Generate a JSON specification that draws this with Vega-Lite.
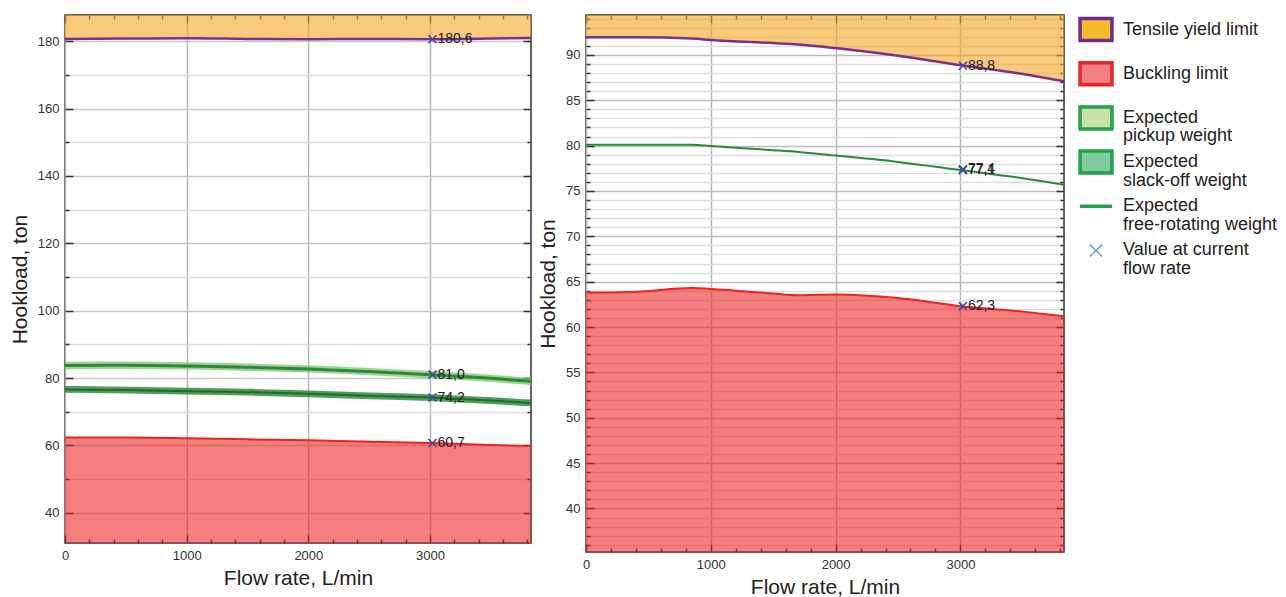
{
  "$schema": "https://vega.github.io/schema/vega-lite/v6.json",
  "padding": {"left": 8, "top": 11, "right": 0, "bottom": 0},
  "background": "white",
  "config": {
    "font": "Liberation Sans",
    "view": {"stroke": "#333", "strokeWidth": 1.5},
    "axis": {
      "labelFont": "Liberation Sans", "labelFontSize": 13, "labelColor": "#333",
      "titleFont": "Liberation Sans", "titleFontSize": 21, "titleFontWeight": "normal", "titleColor": "#222",
      "tickColor": "#333", "tickWidth": 1.5, "domain": false, "labelOverlap": false, "labelFlush": false
    }
  },
  "datasets": {
    "left": [
      {"flow": 0, "tensile": 180.7, "pick_lo": 82.6, "pick_mid": 83.7, "pick_hi": 84.8, "slack_lo": 75.6, "slack_mid": 76.6, "slack_hi": 77.6, "buckle": 62.3},
      {"flow": 500, "tensile": 180.8, "pick_lo": 82.7, "pick_mid": 83.8, "pick_hi": 84.9, "slack_lo": 75.4, "slack_mid": 76.4, "slack_hi": 77.4, "buckle": 62.3},
      {"flow": 1000, "tensile": 180.9, "pick_lo": 82.5, "pick_mid": 83.6, "pick_hi": 84.7, "slack_lo": 75.1, "slack_mid": 76.1, "slack_hi": 77.1, "buckle": 62.1},
      {"flow": 1500, "tensile": 180.7, "pick_lo": 82.1, "pick_mid": 83.2, "pick_hi": 84.3, "slack_lo": 74.8, "slack_mid": 75.8, "slack_hi": 76.8, "buckle": 61.8},
      {"flow": 2000, "tensile": 180.6, "pick_lo": 81.6, "pick_mid": 82.7, "pick_hi": 83.8, "slack_lo": 74.3, "slack_mid": 75.3, "slack_hi": 76.3, "buckle": 61.5},
      {"flow": 2500, "tensile": 180.7, "pick_lo": 80.8, "pick_mid": 81.9, "pick_hi": 83.0, "slack_lo": 73.7, "slack_mid": 74.7, "slack_hi": 75.7, "buckle": 61.1},
      {"flow": 3000, "tensile": 180.6, "pick_lo": 79.9, "pick_mid": 81.0, "pick_hi": 82.1, "slack_lo": 73.2, "slack_mid": 74.2, "slack_hi": 75.2, "buckle": 60.7},
      {"flow": 3500, "tensile": 180.8, "pick_lo": 78.8, "pick_mid": 79.9, "pick_hi": 81.0, "slack_lo": 72.3, "slack_mid": 73.3, "slack_hi": 74.3, "buckle": 60.1},
      {"flow": 3830, "tensile": 181.0, "pick_lo": 77.9, "pick_mid": 79.0, "pick_hi": 80.1, "slack_lo": 71.6, "slack_mid": 72.6, "slack_hi": 73.6, "buckle": 59.8}
    ],
    "right": [
      {"flow": 0, "tensile": 91.95, "free": 80.1, "buckle": 63.8},
      {"flow": 400, "tensile": 91.95, "free": 80.1, "buckle": 63.9},
      {"flow": 850, "tensile": 91.8, "free": 80.1, "buckle": 64.3},
      {"flow": 1000, "tensile": 91.65, "free": 79.95, "buckle": 64.2},
      {"flow": 1500, "tensile": 91.3, "free": 79.5, "buckle": 63.7},
      {"flow": 1700, "tensile": 91.15, "free": 79.3, "buckle": 63.5},
      {"flow": 2000, "tensile": 90.75, "free": 78.9, "buckle": 63.6},
      {"flow": 2500, "tensile": 89.9, "free": 78.2, "buckle": 63.2},
      {"flow": 3000, "tensile": 88.85, "free": 77.3, "buckle": 62.3},
      {"flow": 3500, "tensile": 87.9, "free": 76.4, "buckle": 61.7},
      {"flow": 3830, "tensile": 87.1, "free": 75.7, "buckle": 61.2}
    ],
    "leftMarks": [
      {"flow": 3020, "value": 180.6, "label": "180,6"},
      {"flow": 3020, "value": 81.0, "label": "81,0"},
      {"flow": 3020, "value": 74.2, "label": "74,2"},
      {"flow": 3020, "value": 60.7, "label": "60,7"}
    ],
    "rightMarks": [
      {"flow": 3020, "value": 88.8, "label": "88,8"},
      {"flow": 3020, "value": 77.4, "label": "77,4"},
      {"flow": 3020, "value": 77.3, "label": "77,1"},
      {"flow": 3020, "value": 62.3, "label": "62,3"}
    ],
    "legend": [
      {"item": "Tensile yield limit", "label": "Tensile yield limit"},
      {"item": "Buckling limit", "label": "Buckling limit"},
      {"item": "Expected pickup weight", "label": "Expected\npickup weight"},
      {"item": "Expected slack-off weight", "label": "Expected\nslack-off weight"},
      {"item": "Expected free-rotating weight", "label": "Expected\nfree-rotating weight"},
      {"item": "Value at current flow rate", "label": "Value at current\nflow rate"}
    ]
  },
  "hconcat": [
    {
      "width": 466,
      "height": 528,
      "data": {"name": "left"},
      "resolve": {"axis": {"x": "independent", "y": "independent"}},
      "layer": [
        {
          "mark": {"type": "area", "color": "#F5A623", "opacity": 0.6, "clip": true},
          "encoding": {
            "x": {"field": "flow", "type": "quantitative", "scale": {"domain": [0, 3830], "nice": false, "zero": false}, "title": "Flow rate, L/min",
              "axis": {"orient": "bottom", "values": [0,200,400,600,800,1000,1200,1400,1600,1800,2000,2200,2400,2600,2800,3000,3200,3400,3600,3800], "format": "d",
                "labelExpr": "datum.value % 1000 === 0 ? datum.label : ''", "labelPadding": 14, "titlePadding": 1,
                "grid": true, "gridColor": {"condition": {"test": "datum.value % 1000 === 0", "value": "#b8b8b8"}, "value": "transparent"}, "gridWidth": 1.5,
                "tickSize": {"condition": {"test": "datum.value % 1000 === 0", "value": -8}, "value": -4}}},
            "y": {"field": "tensile", "type": "quantitative", "scale": {"domain": [31, 187.8], "nice": false, "zero": false}, "title": "Hookload, ton",
              "axis": {"orient": "left", "values": [40,50,60,70,80,90,100,110,120,130,140,150,160,170,180],
                "labelExpr": "datum.value % 20 === 0 ? datum.label : ''", "labelPadding": 14, "titlePadding": 7,
                "grid": true, "gridColor": {"condition": {"test": "datum.value % 20 === 0", "value": "#c8c8c8"}, "value": "#dcdcdc"}, "gridWidth": 1.5,
                "tickSize": {"condition": {"test": "datum.value % 20 === 0", "value": -8}, "value": -4}}},
            "y2": {"datum": 187.8}
          }
        },
        {
          "mark": {"type": "area", "color": "#EE2222", "opacity": 0.58, "clip": true},
          "encoding": {
            "x": {"field": "flow", "type": "quantitative", "scale": {"domain": [0, 3830], "nice": false, "zero": false}, "axis": null},
            "y": {"field": "buckle", "type": "quantitative", "scale": {"domain": [31, 187.8], "nice": false, "zero": false}, "axis": null},
            "y2": {"datum": 31}
          }
        },
        {
          "mark": {"type": "line", "color": "#EE2222", "strokeWidth": 2, "interpolate": "monotone", "clip": true},
          "encoding": {
            "x": {"field": "flow", "type": "quantitative", "scale": {"domain": [0, 3830], "nice": false, "zero": false}, "axis": null},
            "y": {"field": "buckle", "type": "quantitative", "scale": {"domain": [31, 187.8], "nice": false, "zero": false}, "axis": null}
          }
        },
        {
          "mark": {"type": "area", "color": "#7FC46F", "opacity": 0.75, "interpolate": "monotone", "clip": true},
          "encoding": {
            "x": {"field": "flow", "type": "quantitative", "scale": {"domain": [0, 3830], "nice": false, "zero": false}, "axis": null},
            "y": {"field": "pick_lo", "type": "quantitative", "scale": {"domain": [31, 187.8], "nice": false, "zero": false}, "axis": null},
            "y2": {"field": "pick_hi"}
          }
        },
        {
          "mark": {"type": "line", "color": "#2B8A3A", "strokeWidth": 3, "interpolate": "monotone", "clip": true},
          "encoding": {
            "x": {"field": "flow", "type": "quantitative", "scale": {"domain": [0, 3830], "nice": false, "zero": false}, "axis": null},
            "y": {"field": "pick_mid", "type": "quantitative", "scale": {"domain": [31, 187.8], "nice": false, "zero": false}, "axis": null}
          }
        },
        {
          "mark": {"type": "area", "color": "#2F8C40", "opacity": 0.85, "interpolate": "monotone", "clip": true},
          "encoding": {
            "x": {"field": "flow", "type": "quantitative", "scale": {"domain": [0, 3830], "nice": false, "zero": false}, "axis": null},
            "y": {"field": "slack_lo", "type": "quantitative", "scale": {"domain": [31, 187.8], "nice": false, "zero": false}, "axis": null},
            "y2": {"field": "slack_hi"}
          }
        },
        {
          "mark": {"type": "line", "color": "#1D6E2B", "strokeWidth": 2, "interpolate": "monotone", "clip": true},
          "encoding": {
            "x": {"field": "flow", "type": "quantitative", "scale": {"domain": [0, 3830], "nice": false, "zero": false}, "axis": null},
            "y": {"field": "slack_mid", "type": "quantitative", "scale": {"domain": [31, 187.8], "nice": false, "zero": false}, "axis": null}
          }
        },
        {
          "mark": {"type": "line", "color": "#7A2E8E", "strokeWidth": 2.5, "interpolate": "monotone", "clip": true},
          "encoding": {
            "x": {"field": "flow", "type": "quantitative", "scale": {"domain": [0, 3830], "nice": false, "zero": false},
              "axis": {"orient": "top", "values": [0,200,400,600,800,1000,1200,1400,1600,1800,2000,2200,2400,2600,2800,3000,3200,3400,3600,3800], "labels": false, "grid": false, "title": null,
                "tickSize": {"condition": {"test": "datum.value % 1000 === 0", "value": -8}, "value": -4}}},
            "y": {"field": "tensile", "type": "quantitative", "scale": {"domain": [31, 187.8], "nice": false, "zero": false},
              "axis": {"orient": "right", "values": [40,50,60,70,80,90,100,110,120,130,140,150,160,170,180], "labels": false, "grid": false, "title": null,
                "tickSize": {"condition": {"test": "datum.value % 20 === 0", "value": -8}, "value": -4}}}
          }
        },
        {
          "data": {"name": "leftMarks"},
          "mark": {"type": "point", "shape": "M-1,-1L1,1M-1,1L1,-1", "filled": false, "stroke": "#3B4BA8", "strokeWidth": 1.6, "size": 64, "opacity": 1},
          "encoding": {
            "x": {"field": "flow", "type": "quantitative", "scale": {"domain": [0, 3830], "nice": false, "zero": false}, "axis": null},
            "y": {"field": "value", "type": "quantitative", "scale": {"domain": [31, 187.8], "nice": false, "zero": false}, "axis": null}
          }
        },
        {
          "data": {"name": "leftMarks"},
          "mark": {"type": "text", "align": "left", "baseline": "middle", "dx": 5, "fontSize": 14, "color": "#222", "font": "Liberation Sans"},
          "encoding": {
            "x": {"field": "flow", "type": "quantitative", "scale": {"domain": [0, 3830], "nice": false, "zero": false}, "axis": null},
            "y": {"field": "value", "type": "quantitative", "scale": {"domain": [31, 187.8], "nice": false, "zero": false}, "axis": null},
            "text": {"field": "label"}
          }
        }
      ]
    },
    {
      "spacing": 7,
      "hconcat": [
        {
          "width": 478,
          "height": 537,
          "data": {"name": "right"},
          "resolve": {"axis": {"x": "independent", "y": "independent"}},
          "layer": [
            {
              "mark": {"type": "area", "color": "#F5A623", "opacity": 0.6, "interpolate": "monotone", "clip": true},
              "encoding": {
                "x": {"field": "flow", "type": "quantitative", "scale": {"domain": [0, 3830], "nice": false, "zero": false}, "title": "Flow rate, L/min",
                  "axis": {"orient": "bottom", "values": [0,200,400,600,800,1000,1200,1400,1600,1800,2000,2200,2400,2600,2800,3000,3200,3400,3600,3800], "format": "d",
                    "labelExpr": "datum.value % 1000 === 0 ? datum.label : ''", "labelPadding": 14, "titlePadding": 1,
                    "grid": true, "gridColor": {"condition": {"test": "datum.value % 1000 === 0", "value": "#b8b8b8"}, "value": "transparent"}, "gridWidth": 1.5,
                    "tickSize": {"condition": {"test": "datum.value % 1000 === 0", "value": -8}, "value": -4}}},
                "y": {"field": "tensile", "type": "quantitative", "scale": {"domain": [35.2, 94.4], "nice": false, "zero": false}, "title": "Hookload, ton",
                  "axis": {"orient": "left", "values": [36,37,38,39,40,41,42,43,44,45,46,47,48,49,50,51,52,53,54,55,56,57,58,59,60,61,62,63,64,65,66,67,68,69,70,71,72,73,74,75,76,77,78,79,80,81,82,83,84,85,86,87,88,89,90,91,92,93,94],
                    "labelExpr": "datum.value % 5 === 0 ? datum.label : ''", "labelPadding": 14, "titlePadding": 7,
                    "grid": true, "gridColor": {"condition": {"test": "datum.value % 5 === 0", "value": "#bdbdbd"}, "value": "#dedede"}, "gridWidth": 1.5,
                    "tickSize": {"condition": {"test": "datum.value % 5 === 0", "value": -8}, "value": -4}}},
                "y2": {"datum": 94.4}
              }
            },
            {
              "mark": {"type": "area", "color": "#EE2222", "opacity": 0.58, "interpolate": "monotone", "clip": true},
              "encoding": {
                "x": {"field": "flow", "type": "quantitative", "scale": {"domain": [0, 3830], "nice": false, "zero": false}, "axis": null},
                "y": {"field": "buckle", "type": "quantitative", "scale": {"domain": [35.2, 94.4], "nice": false, "zero": false}, "axis": null},
                "y2": {"datum": 35.2}
              }
            },
            {
              "mark": {"type": "line", "color": "#EE2222", "strokeWidth": 2, "interpolate": "monotone", "clip": true},
              "encoding": {
                "x": {"field": "flow", "type": "quantitative", "scale": {"domain": [0, 3830], "nice": false, "zero": false}, "axis": null},
                "y": {"field": "buckle", "type": "quantitative", "scale": {"domain": [35.2, 94.4], "nice": false, "zero": false}, "axis": null}
              }
            },
            {
              "mark": {"type": "line", "color": "#2A8A36", "strokeWidth": 2, "interpolate": "monotone", "clip": true},
              "encoding": {
                "x": {"field": "flow", "type": "quantitative", "scale": {"domain": [0, 3830], "nice": false, "zero": false}, "axis": null},
                "y": {"field": "free", "type": "quantitative", "scale": {"domain": [35.2, 94.4], "nice": false, "zero": false}, "axis": null}
              }
            },
            {
              "mark": {"type": "line", "color": "#7A2E8E", "strokeWidth": 2.5, "interpolate": "monotone", "clip": true},
              "encoding": {
                "x": {"field": "flow", "type": "quantitative", "scale": {"domain": [0, 3830], "nice": false, "zero": false},
                  "axis": {"orient": "top", "values": [0,200,400,600,800,1000,1200,1400,1600,1800,2000,2200,2400,2600,2800,3000,3200,3400,3600,3800], "labels": false, "grid": false, "title": null,
                    "tickSize": {"condition": {"test": "datum.value % 1000 === 0", "value": -8}, "value": -4}}},
                "y": {"field": "tensile", "type": "quantitative", "scale": {"domain": [35.2, 94.4], "nice": false, "zero": false},
                  "axis": {"orient": "right", "values": [36,37,38,39,40,41,42,43,44,45,46,47,48,49,50,51,52,53,54,55,56,57,58,59,60,61,62,63,64,65,66,67,68,69,70,71,72,73,74,75,76,77,78,79,80,81,82,83,84,85,86,87,88,89,90,91,92,93,94], "labels": false, "grid": false, "title": null,
                    "tickSize": {"condition": {"test": "datum.value % 5 === 0", "value": -8}, "value": -4}}}
              }
            },
            {
              "data": {"name": "rightMarks"},
              "mark": {"type": "point", "shape": "M-1,-1L1,1M-1,1L1,-1", "filled": false, "stroke": "#3B4BA8", "strokeWidth": 1.6, "size": 64, "opacity": 1},
              "encoding": {
                "x": {"field": "flow", "type": "quantitative", "scale": {"domain": [0, 3830], "nice": false, "zero": false}, "axis": null},
                "y": {"field": "value", "type": "quantitative", "scale": {"domain": [35.2, 94.4], "nice": false, "zero": false}, "axis": null}
              }
            },
            {
              "data": {"name": "rightMarks"},
              "mark": {"type": "text", "align": "left", "baseline": "middle", "dx": 5, "fontSize": 14, "color": "#222", "font": "Liberation Sans"},
              "encoding": {
                "x": {"field": "flow", "type": "quantitative", "scale": {"domain": [0, 3830], "nice": false, "zero": false}, "axis": null},
                "y": {"field": "value", "type": "quantitative", "scale": {"domain": [35.2, 94.4], "nice": false, "zero": false}, "axis": null},
                "text": {"field": "label"}
              }
            }
          ]
        },
        {
          "width": 210,
          "height": 250,
          "view": {"stroke": null},
          "data": {"name": "legend"},
          "layer": [
            {
              "transform": [{"filter": {"field": "item", "oneOf": ["Tensile yield limit", "Buckling limit", "Expected pickup weight", "Expected slack-off weight"]}}],
              "mark": {"type": "point", "shape": "M-1.45,-1H1.45V1H-1.45Z", "filled": true, "size": 484, "strokeWidth": 3.5, "opacity": 1, "fillOpacity": 1},
              "encoding": {
                "x": {"datum": 1, "type": "quantitative", "scale": {"domain": [0, 10]}, "axis": null},
                "y": {"field": "item", "type": "ordinal", "scale": {"type": "point", "padding": 0.33, "domain": ["Tensile yield limit", "Buckling limit", "Expected pickup weight", "Expected slack-off weight", "Expected free-rotating weight", "Value at current flow rate"]}, "axis": null},
                "fill": {"field": "item", "type": "nominal", "legend": null, "scale": {"domain": ["Tensile yield limit", "Buckling limit", "Expected pickup weight", "Expected slack-off weight"], "range": ["#F6BB2B", "#F27F80", "#C6E2A6", "#7FCB9D"]}},
                "stroke": {"field": "item", "type": "nominal", "legend": null, "scale": {"domain": ["Tensile yield limit", "Buckling limit", "Expected pickup weight", "Expected slack-off weight"], "range": ["#6F2C8F", "#EC2227", "#22A24B", "#22A24B"]}}
              }
            },
            {
              "transform": [{"filter": {"field": "item", "equal": "Expected free-rotating weight"}}],
              "mark": {"type": "point", "shape": "M-1.45,0H1.45", "filled": false, "size": 484, "strokeWidth": 3.5, "stroke": "#22A24B", "opacity": 1},
              "encoding": {
                "x": {"datum": 1, "type": "quantitative", "scale": {"domain": [0, 10]}, "axis": null},
                "y": {"field": "item", "type": "ordinal", "scale": {"type": "point", "padding": 0.33, "domain": ["Tensile yield limit", "Buckling limit", "Expected pickup weight", "Expected slack-off weight", "Expected free-rotating weight", "Value at current flow rate"]}, "axis": null}
              }
            },
            {
              "transform": [{"filter": {"field": "item", "equal": "Value at current flow rate"}}],
              "mark": {"type": "point", "shape": "M-1,-1L1,1M-1,1L1,-1", "filled": false, "size": 144, "strokeWidth": 1.4, "stroke": "#5B9BD5", "opacity": 1},
              "encoding": {
                "x": {"datum": 1, "type": "quantitative", "scale": {"domain": [0, 10]}, "axis": null},
                "y": {"field": "item", "type": "ordinal", "scale": {"type": "point", "padding": 0.33, "domain": ["Tensile yield limit", "Buckling limit", "Expected pickup weight", "Expected slack-off weight", "Expected free-rotating weight", "Value at current flow rate"]}, "axis": null}
              }
            },
            {
              "mark": {"type": "text", "align": "left", "baseline": "top", "dx": 27, "dy": -9, "fontSize": 18, "lineHeight": 18.5, "lineBreak": "\n", "color": "#222", "font": "Liberation Sans"},
              "encoding": {
                "x": {"datum": 1, "type": "quantitative", "scale": {"domain": [0, 10]}, "axis": null},
                "y": {"field": "item", "type": "ordinal", "scale": {"type": "point", "padding": 0.33, "domain": ["Tensile yield limit", "Buckling limit", "Expected pickup weight", "Expected slack-off weight", "Expected free-rotating weight", "Value at current flow rate"]}, "axis": null},
                "text": {"field": "label"}
              }
            }
          ]
        }
      ]
    }
  ],
  "spacing": 3
}
